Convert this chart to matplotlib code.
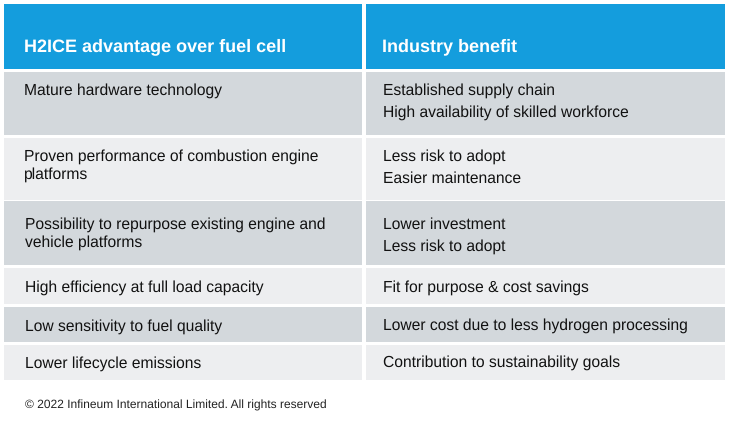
import matplotlib
matplotlib.use("Agg")
import matplotlib.pyplot as plt
from matplotlib.patches import Rectangle

plt.rcParams['font.family'] = ['Liberation Sans', 'DejaVu Sans']
plt.rcParams['text.hinting'] = 'no_hinting'
plt.rcParams['text.hinting_factor'] = 8

# Content
headers = ["H2ICE advantage over fuel cell", "Industry benefit"]
advantages = [
    ["Mature hardware technology"],
    ["Proven performance of combustion engine", "platforms"],
    ["Possibility to repurpose existing engine and", "vehicle platforms"],
    ["High efficiency at full load capacity"],
    ["Low sensitivity to fuel quality"],
    ["Lower lifecycle emissions"],
]
benefits = [
    ["Established supply chain", "High availability of skilled workforce"],
    ["Less risk to adopt", "Easier maintenance"],
    ["Lower investment", "Less risk to adopt"],
    ["Fit for purpose & cost savings"],
    ["Lower cost due to less hydrogen processing"],
    ["Contribution to sustainability goals"],
]
footer = "\u00a9 2022 Infineum International Limited. All rights reserved"

# Layout (pixels)
W, H = 730, 425
col_edges = [(4.3, 361.6), (366, 724.5)]
header_band = (4.3, 69)
row_bands = [(72, 135), (138, 200), (200.5, 265), (268, 304), (307, 342), (345, 379.5)]
adv_x = [24, 23.5, 25, 25, 25, 25]
ben_x = [383, 383, 383, 383, 383, 383]
adv_base = [[94.5], [160.5, 178.5], [228.5, 246.5], [291.5], [331], [367.5]]
ben_base = [[94.5, 116.5], [160.5, 182.5], [228.5, 250.5], [291.5], [329.5], [366.5]]
header_x = [24.5, 382]
header_base = 51
footer_x, footer_base = 25, 409

BLUE = "#149ddd"
DARK = "#d3d8dc"
LIGHT = "#edeef0"
TEXT = "#111111"

fig = plt.figure(figsize=(W / 100, H / 100), dpi=100)
ax = fig.add_axes([0, 0, 1, 1])
ax.set_xlim(0, W)
ax.set_ylim(H, 0)
ax.axis("off")

for (x0, x1), hx, label in zip(col_edges, header_x, headers):
    ax.add_patch(Rectangle((x0, header_band[0]), x1 - x0, header_band[1] - header_band[0],
                           fc=BLUE, ec="none"))
    ax.text(hx, header_base, label, color="white", fontsize=13.0, fontweight="bold", va="baseline")

for i, (y0, y1) in enumerate(row_bands):
    fc = DARK if i % 2 == 0 else LIGHT
    for x0, x1 in col_edges:
        ax.add_patch(Rectangle((x0, y0), x1 - x0, y1 - y0, fc=fc, ec="none"))

for lines, x, bases in zip(advantages, adv_x, adv_base):
    for line, y in zip(lines, bases):
        ax.text(x, y, line, color=TEXT, fontsize=11.26, va="baseline")
for lines, x, bases in zip(benefits, ben_x, ben_base):
    for line, y in zip(lines, bases):
        ax.text(x, y, line, color=TEXT, fontsize=11.26, va="baseline")

ax.text(footer_x, footer_base, footer, color="#222222", fontsize=8.65, va="baseline")

fig.savefig("out.png", dpi=100)
